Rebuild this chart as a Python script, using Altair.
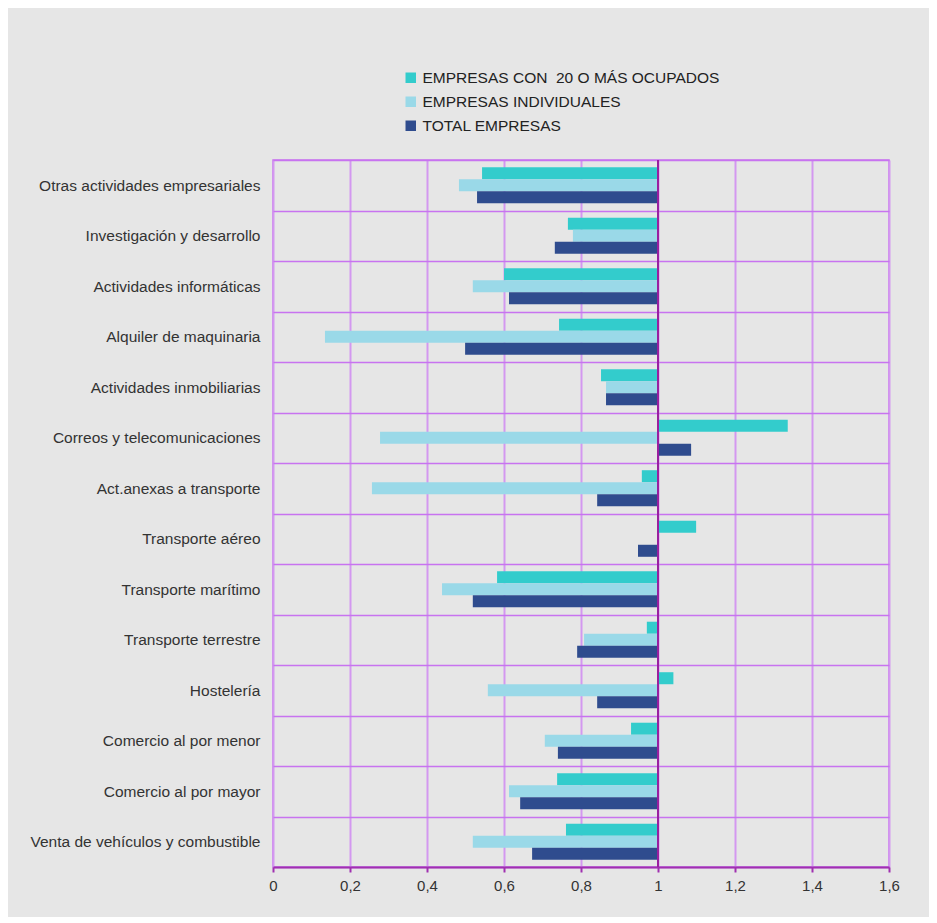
import altair as alt
import pandas as pd

categories = [
    "Otras actividades empresariales",
    "Investigación y desarrollo",
    "Actividades informáticas",
    "Alquiler de maquinaria",
    "Actividades inmobiliarias",
    "Correos y telecomunicaciones",
    "Act.anexas a transporte",
    "Transporte aéreo",
    "Transporte marítimo",
    "Transporte terrestre",
    "Hostelería",
    "Comercio al por menor",
    "Comercio al por mayor",
    "Venta de vehículos y combustible",
]
series_names = [
    "EMPRESAS CON \u00a020 O MÁS OCUPADOS",
    "EMPRESAS INDIVIDUALES",
    "TOTAL EMPRESAS",
]
empresas_20 = [0.543, 0.766, 0.600, 0.743, 0.852, 1.337, 0.958, 1.099, 0.582, 0.971, 1.040, 0.930, 0.738, 0.761]
empresas_ind = [0.483, 0.779, 0.519, 0.135, 0.865, 0.278, 0.257, None, 0.439, 0.808, 0.558, 0.706, 0.613, 0.519]
total_emp = [0.530, 0.732, 0.613, 0.499, 0.865, 1.086, 0.842, 0.948, 0.519, 0.790, 0.842, 0.740, 0.642, 0.673]
tick_values = [0, 0.2, 0.4, 0.6, 0.8, 1, 1.2, 1.4, 1.6]
colors = ["#33CCCC", "#9AD9E8", "#2F4C8E"]

rows = []
for name, vals in zip(series_names, [empresas_20, empresas_ind, total_emp]):
    for c, v in zip(categories, vals):
        if v is not None:
            rows.append({"cat": c, "serie": name, "value": v})
df = pd.DataFrame(rows)

font = "Liberation Sans"

bars = alt.Chart(df).mark_bar(cornerRadius=0).encode(
    y=alt.Y("cat:N", sort=categories, title=None,
            scale=alt.Scale(paddingInner=0, paddingOuter=0),
            axis=alt.Axis(grid=True, tickBand="extent", gridColor="#c873f0", gridWidth=1.5,
                          ticks=False, domain=False, labelFont=font, labelFontSize=15.5,
                          labelColor="#333333", labelPadding=13, labelLimit=300)),
    yOffset=alt.YOffset("serie:N", sort=series_names,
                        scale=alt.Scale(paddingInner=0, paddingOuter=0.6)),
    x=alt.X("value:Q", title=None,
            scale=alt.Scale(domain=[0, 1.6], nice=False),
            axis=alt.Axis(values=tick_values, grid=True, gridColor="#d398f0", gridWidth=2,
                          domainColor="#a030b0", domainWidth=2, tickColor="#a030b0",
                          tickWidth=2, tickSize=5, labelFont=font, labelFontSize=15,
                          labelColor="#333333", labelPadding=6, labelFlush=False,
                          labelExpr="replace(toString(datum.value), '.', ',')")),
    x2=alt.datum(1),
    color=alt.Color("serie:N", sort=series_names,
                    scale=alt.Scale(domain=series_names, range=colors),
                    legend=alt.Legend(title=None, orient="none", legendX=130, legendY=-90,
                                      symbolType="square", symbolSize=110, symbolStrokeWidth=0,
                                      labelFont=font, labelFontSize=15.5, labelColor="#222222",
                                      rowPadding=7, labelOffset=4, labelLimit=400)),
)

axis_rule = alt.Chart(pd.DataFrame({"v": [1]})).mark_rule(color="#9a1fa0", strokeWidth=2).encode(
    x=alt.X("v:Q")
)

chart = alt.layer(bars, axis_rule).properties(
    width=616, height=707,
    background="#e6e6e6",
    padding={"left": 265, "top": 152, "right": 40, "bottom": 50},
    autosize=alt.AutoSizeParams(type="none"),
).configure_view(stroke="#c873f0", strokeWidth=1.5)

chart.save("out.html", embed_options={"renderer": "svg", "actions": False})
